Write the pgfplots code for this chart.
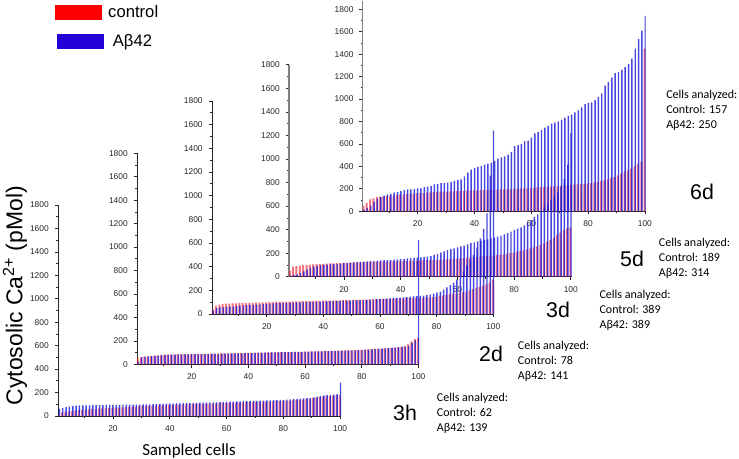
\documentclass[border=0pt]{standalone}
\usepackage{fontspec}
\setmainfont{Liberation Sans}
\newfontfamily\carlito{Carlito}
\usepackage{pgfplots}
\usepackage{pgfplotstable}
\pgfplotsset{compat=1.18}

\definecolor{barred}{RGB}{235,30,50}
\definecolor{barblue}{RGB}{25,25,215}

% 85 bars per panel, c = control, a = Abeta42
\pgfplotstableread[row sep=\\]{
c a\\
50 15\\75 30\\105 50\\115 85\\125 110\\130 125\\130 140\\135 150\\138 155\\140 165\\
145 170\\148 180\\150 190\\152 195\\155 195\\158 200\\160 205\\162 205\\164 215\\166 220\\
168 225\\170 240\\172 245\\174 250\\175 250\\176 255\\177 260\\178 270\\179 280\\180 285\\
182 310\\184 345\\185 370\\186 385\\187 395\\188 405\\189 415\\190 425\\191 430\\192 450\\
193 470\\194 480\\195 490\\196 505\\197 530\\198 580\\200 590\\202 600\\203 625\\205 630\\
207 655\\210 695\\212 705\\214 725\\216 745\\218 760\\220 780\\222 790\\225 800\\228 815\\
230 835\\232 850\\235 860\\237 880\\240 900\\242 925\\245 955\\247 965\\250 970\\255 990\\
262 1020\\270 1050\\278 1120\\285 1150\\295 1190\\305 1230\\320 1240\\335 1260\\350 1285\\365 1310\\
380 1360\\400 1450\\420 1535\\445 1610\\1450 1740\\
}\tabsixd
\pgfplotstableread[row sep=\\]{
c a\\
50 10\\85 15\\90 20\\95 30\\98 45\\100 60\\102 75\\104 85\\106 92\\108 97\\
110 100\\112 102\\113 105\\114 107\\115 110\\116 112\\117 115\\118 118\\119 120\\120 122\\
121 124\\122 126\\123 128\\124 130\\125 132\\126 134\\127 136\\128 138\\128 140\\129 142\\
130 144\\130 146\\131 148\\132 150\\133 152\\134 155\\135 158\\136 160\\137 162\\138 165\\
139 168\\140 170\\141 175\\142 185\\143 195\\144 205\\146 215\\148 225\\150 235\\152 240\\
154 250\\156 258\\158 265\\160 275\\162 285\\165 292\\168 300\\170 305\\172 312\\175 318\\
178 325\\180 332\\183 340\\186 350\\190 360\\195 370\\200 382\\205 395\\210 408\\218 420\\
225 435\\232 455\\240 480\\250 505\\258 530\\268 560\\280 590\\295 615\\310 650\\330 680\\
355 720\\375 760\\395 830\\410 950\\420 1220\\
}\tabfived
\pgfplotstableread[row sep=\\]{
c a\\
40 30\\70 50\\80 55\\85 58\\87 60\\88 62\\89 65\\90 67\\91 70\\92 72\\
93 74\\94 76\\95 78\\96 80\\97 82\\98 84\\99 86\\100 88\\101 90\\102 92\\
103 93\\104 94\\105 95\\105 96\\106 97\\106 98\\107 99\\108 100\\108 101\\109 102\\
110 103\\110 104\\111 105\\112 106\\113 107\\114 108\\114 109\\115 110\\116 111\\117 112\\
118 113\\118 114\\119 115\\120 116\\120 117\\121 118\\122 120\\123 121\\124 123\\125 125\\
126 127\\127 128\\128 130\\129 132\\130 134\\131 136\\132 138\\133 140\\134 142\\135 145\\
136 148\\137 150\\138 153\\139 156\\140 160\\141 165\\143 172\\146 180\\150 190\\155 205\\
160 225\\165 245\\170 265\\175 290\\180 320\\185 360\\190 410\\200 455\\210 500\\220 560\\
230 640\\240 720\\250 850\\265 1170\\290 1550\\
}\tabthreed
\pgfplotstableread[row sep=\\]{
c a\\
55 20\\60 62\\65 66\\68 68\\71 70\\74 72\\77 74\\80 76\\82 78\\84 80\\
85 82\\85 83\\86 84\\86 84\\87 85\\87 85\\88 86\\88 86\\89 87\\89 87\\
90 88\\90 88\\91 89\\92 90\\92 90\\93 91\\93 92\\94 92\\94 93\\95 93\\
95 94\\96 94\\96 95\\97 95\\98 96\\98 97\\99 98\\100 98\\100 99\\101 100\\
102 101\\103 102\\104 103\\104 104\\105 104\\105 105\\106 105\\106 106\\107 106\\107 107\\
108 108\\109 108\\110 109\\110 110\\111 110\\111 111\\112 112\\113 112\\114 113\\115 114\\
116 115\\117 116\\118 117\\119 118\\120 119\\121 120\\122 121\\123 122\\125 124\\127 126\\
129 128\\131 130\\133 132\\135 134\\137 136\\139 138\\141 140\\143 142\\146 145\\150 148\\
155 152\\170 158\\195 182\\215 205\\225 1060\\
}\tabtwod
\pgfplotstableread[row sep=\\]{
c a\\
10 60\\30 68\\35 75\\38 80\\42 85\\46 88\\50 90\\52 90\\55 91\\57 91\\
60 92\\61 92\\63 93\\65 93\\66 94\\68 94\\70 95\\71 95\\72 95\\74 96\\
75 96\\77 97\\78 97\\80 98\\82 98\\84 99\\85 100\\86 100\\88 101\\89 102\\
90 103\\91 104\\92 105\\93 105\\95 106\\96 107\\97 108\\98 109\\99 110\\100 110\\
101 111\\102 112\\103 113\\103 114\\104 115\\105 116\\106 117\\107 117\\108 118\\110 120\\
111 121\\112 122\\113 123\\114 124\\115 125\\116 126\\117 127\\118 128\\119 129\\120 130\\
121 131\\122 132\\123 133\\124 134\\125 135\\126 136\\127 137\\128 138\\130 140\\132 142\\
134 143\\136 145\\138 148\\140 150\\143 152\\147 155\\152 158\\157 165\\162 170\\165 175\\
168 178\\170 180\\173 183\\176 186\\180 285\\
}\tabthreeh

\pgfplotsset{
  panel/.style={
    scale only axis,
    anchor=south west,
    axis x line=bottom, axis y line=left,
    axis line style={-, black!85, line width=0.55pt},
    xmin=0.65, xmax=100.3, ymin=0, ymax=1800,
    xtick={20,40,60,80,100},
    minor xtick={10,30,50,70,90},
    ytick={0,200,...,1800},
    minor y tick num=1,
    tick align=outside,
    major tick length=2.4pt,
    minor tick length=1.4pt,
    tick style={black!85, line width=0.5pt},
    ticklabel style={font=\fontsize{6.3}{7}\selectfont, text=black!85},
    xticklabel style={yshift=-1.2pt},
    yticklabel style={xshift=-1pt},
    /pgf/number format/1000 sep={},
    /pgf/number format/assume math mode=true,
  },
  ctrl/.style={ybar, bar width=1.5pt, bar shift=-0.2pt, fill=barred, draw=none, fill opacity=0.62, forget plot},
  abeta/.style={ybar, bar width=1.1pt, bar shift=0.3pt, fill=barblue, draw=none, fill opacity=0.8, forget plot},
}

\begin{document}
\begin{tikzpicture}
\useasboundingbox (0,0) rectangle (554.25pt,344.25pt);

% back to front: 6d first, 3h last
\begin{axis}[panel, at={(272.0pt,185.8pt)}, width=212.3pt, height=157.4pt, ymax=1870,
    y axis line style={black!50, line width=1pt}]
  \addplot[ctrl] table[x expr={1+\coordindex*99/84}, y=c] {\tabsixd};
  \addplot[abeta] table[x expr={1+\coordindex*99/84}, y=a] {\tabsixd};
\end{axis}

\begin{axis}[panel, at={(216.8pt,136.7pt)}, width=211.9pt, height=159pt,
    y axis line style={black!50, line width=1pt}]
  \addplot[ctrl] table[x expr={1+\coordindex*99/84}, y=c] {\tabfived};
  \addplot[abeta] table[x expr={1+\coordindex*99/84}, y=a] {\tabfived};
\end{axis}

\begin{axis}[panel, at={(158.9pt,108.75pt)}, width=211.7pt, height=159.75pt]
  \addplot[ctrl] table[x expr={1+\coordindex*99/84}, y=c] {\tabthreed};
  \addplot[abeta] table[x expr={1+\coordindex*99/84}, y=a] {\tabthreed};
\end{axis}

\begin{axis}[panel, at={(102.7pt,71.0pt)}, width=211.7pt, height=158.25pt]
  \addplot[ctrl] table[x expr={1+\coordindex*99/84}, y=c] {\tabtwod};
  \addplot[abeta] table[x expr={1+\coordindex*99/84}, y=a] {\tabtwod};
\end{axis}

\begin{axis}[panel, at={(43.5pt,32.25pt)}, width=212.25pt, height=158.25pt,
    ylabel={Cytosolic Ca\textsuperscript{2+} (pMol)},
    ylabel style={at={(axis description cs:-0.152,0.57)}, anchor=center, font=\fontsize{17.2}{20}\selectfont},
    xlabel={Sampled cells},
    xlabel style={at={(axis description cs:0.463,-0.166)}, anchor=center, font=\carlito\fontsize{12.7}{14}\selectfont},
    legend style={at={(axis description cs:-0.0106,1.9576)}, anchor=north west, draw=none, fill=none,
      inner sep=0pt, outer sep=0pt, row sep=7.2pt, font=\fontsize{12.5}{14}\selectfont},
    legend cell align=left]
  \addplot[ctrl] table[x expr={1+\coordindex*99/84}, y=c] {\tabthreeh};
  \addplot[abeta] table[x expr={1+\coordindex*99/84}, y=a] {\tabthreeh};
  \addlegendimage{legend image code/.code={\fill[red] (0pt,-5.3pt) rectangle (34.5pt,5.3pt);}}
  \addlegendentry{\hspace{1.5pt}control}
  \addlegendimage{legend image code/.code={\fill[blue!85!red] (1.5pt,-5.3pt) rectangle (36pt,5.3pt);}}
  \addlegendentry{\hspace{5pt}Aβ42}
\end{axis}

% annotations in reference pixels
\begin{scope}[x=0.75pt, y=-0.75pt, yshift=344.25pt]
  \foreach \lab/\px/\py in {3h/405/413, 2d/491/354, 3d/558/310, 5d/632/259, 6d/702/192}
    \node[font=\fontsize{16}{18}\selectfont] at (\px,\py) {\lab};
  \tikzset{cellnote/.style={anchor=west, inner sep=0pt, align=left, font=\carlito\fontsize{9}{11.25}\selectfont}}
  \node[cellnote] at (436.7,413) {Cells analyzed:\\Control: 62\\Aβ42: 139};
  \node[cellnote] at (517.7,361.7) {Cells analyzed:\\Control: 78\\Aβ42: 141};
  \node[cellnote] at (599.3,310) {Cells analyzed:\\Control: 389\\Aβ42: 389};
  \node[cellnote] at (658.7,258) {Cells analyzed:\\Control: 189\\Aβ42: 314};
  \node[cellnote] at (666,110) {Cells analyzed:\\Control: 157\\Aβ42: 250};
\end{scope}
\end{tikzpicture}
\end{document}
